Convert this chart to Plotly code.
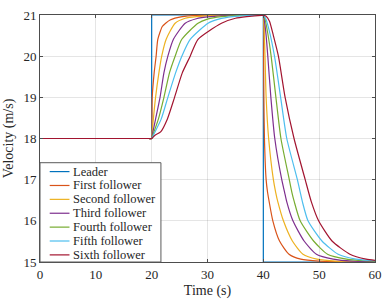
import plotly.graph_objects as go

# ---- data ----
names = ["Leader", "First follower", "Second follower", "Third follower",
         "Fourth follower", "Fifth follower", "Sixth follower"]
colors = ["#0072BD", "#D95319", "#EDB120", "#7E2F8E", "#77AC30", "#4DBEEE", "#A2142F"]

leader_t = [0, 20, 20, 40, 40, 60]
leader_v = [18, 18, 21, 21, 15, 15]

f1_t = [0, 19.5, 20, 20.05, 20.1, 20.45, 20.8, 21.1, 21.9, 22.5, 23.3, 25.5, 28, 32, 39.7, 40,
        40.05, 40.1, 40.2, 40.5, 40.75, 41.05, 41.7, 42.9, 44.6, 46.7, 50, 55, 60]
f1_v = [18, 18, 18, 18.47, 19, 19.6, 20, 20.41, 20.72, 20.8, 20.88, 20.96, 20.99, 21, 21, 21,
        20.0, 19.0, 18.0, 17.0, 16.7, 16.46, 16.0, 15.51, 15.19, 15.07, 15.02, 15.005, 15.0]

f2_t = [0, 19.5, 20, 20.05, 20.3, 20.7, 21.3, 21.8, 22.6, 24.2, 26, 28, 32, 39.7, 40,
        40.1, 40.3, 40.5, 40.95, 41.8, 42.2, 42.6, 43.6, 45.2, 47.1, 49.6, 53, 60]
f2_v = [18, 18, 18, 18.08, 18.47, 19, 19.6, 20, 20.41, 20.8, 20.92, 20.96, 20.99, 21, 21,
        20.8, 20.0, 19.0, 18.0, 17.0, 16.7, 16.46, 16.0, 15.51, 15.19, 15.07, 15.02, 15.0]

f3_t = [0, 19.5, 20, 20.1, 20.7, 21.5, 22.2, 22.9, 23.9, 26.0, 28, 30.5, 34, 39.7, 40,
        40.2, 40.5, 40.8, 41.35, 42.05, 43.3, 43.8, 44.2, 45.3, 47.3, 49.5, 52.5, 56, 60]
f3_v = [18, 18, 18, 18.08, 18.47, 19, 19.6, 20, 20.41, 20.8, 20.91, 20.96, 20.99, 21, 21,
        20.85, 20.5, 20.0, 19.0, 18.0, 17.0, 16.7, 16.46, 16.0, 15.51, 15.19, 15.07, 15.02, 15.01]

f4_t = [0, 19.5, 20, 20.2, 21.2, 22.2, 23.2, 24.2, 25.4, 28.3, 30, 32.5, 36, 39.7, 40,
        40.3, 40.8, 41.4, 42.25, 43.15, 44.65, 45.1, 45.55, 46.6, 49.0, 51.5, 54.9, 58, 60]
f4_v = [18, 18, 18, 18.08, 18.47, 19, 19.6, 20, 20.41, 20.8, 20.9, 20.96, 20.99, 21, 21,
        20.9, 20.55, 20.0, 19.0, 18.0, 17.0, 16.7, 16.46, 16.0, 15.51, 15.19, 15.07, 15.03, 15.02]

f5_t = [0, 19.5, 20, 20.3, 21.7, 22.9, 24.3, 25.4, 26.9, 30.1, 32, 34.5, 38, 39.7, 40,
        40.4, 41.0, 42.0, 43.1, 44.2, 46.1, 46.6, 47.0, 48.0, 50.5, 53.4, 56.6, 60]
f5_v = [18, 18, 18, 18.08, 18.47, 19, 19.6, 20, 20.41, 20.8, 20.9, 20.96, 20.99, 21, 21,
        20.92, 20.65, 20.0, 19.0, 18.0, 17.0, 16.7, 16.46, 16.0, 15.51, 15.19, 15.07, 15.03]

f6_t = [0, 19.5, 20, 20.6, 21.6, 22.8, 24.1, 25.5, 26.9, 28.3, 32.5, 35, 37, 39.7, 40,
        40.5, 41.1, 41.8, 42.7, 43.9, 45.5, 47.5, 48.6, 49.9, 52.3, 55.5, 58.4, 60]
f6_v = [18, 18, 18, 18.08, 18.16, 18.47, 19, 19.6, 20, 20.41, 20.8, 20.92, 20.96, 20.99, 20.99,
        20.97, 20.85, 20.5, 20.0, 19.0, 18.0, 17.0, 16.46, 16.0, 15.51, 15.19, 15.07, 15.04]

x_ticks = [0, 10, 20, 30, 40, 50, 60]
y_ticks = [15, 16, 17, 18, 19, 20, 21]

series = [(leader_t, leader_v), (f1_t, f1_v), (f2_t, f2_v), (f3_t, f3_v),
          (f4_t, f4_v), (f5_t, f5_v), (f6_t, f6_v)]

FONT = "Liberation Serif, Times New Roman, serif"
AX = "#262626"

fig = go.Figure()
for i, ((t, v), name, col) in enumerate(zip(series, names, colors)):
    fig.add_trace(go.Scatter(
        x=t, y=v, mode="lines", name=name, showlegend=False, hoverinfo="skip",
        line=dict(color=col, width=1.2, shape="linear" if i == 0 else "spline", smoothing=0.6),
    ))

axis_common = dict(
    showline=True, linecolor="#4d4d4d", linewidth=1, mirror="ticks",
    ticks="inside", ticklen=3, tickcolor="#4d4d4d",
    showgrid=True, gridcolor="rgba(38,38,38,0.12)", gridwidth=1,
    zeroline=False, tickfont=dict(family=FONT, size=13, color=AX),
)

fig.update_xaxes(range=[0, 60], tickvals=x_ticks, **axis_common,
                 title=dict(text="Time (s)", font=dict(family=FONT, size=14, color=AX), standoff=4))
fig.update_yaxes(range=[15, 21], tickvals=y_ticks, **axis_common,
                 title=dict(text="Velocity (m/s)", font=dict(family=FONT, size=14, color=AX), standoff=6))

# ---- MATLAB-style compact legend (lower-left, inside axes) ----
leg_x0, leg_x1, leg_y0, leg_y1 = 0.0, 0.361, 0.0, 0.402
row_top, row_step = 0.366, 0.0562
shapes = [dict(type="rect", xref="paper", yref="paper", x0=leg_x0, x1=leg_x1,
               y0=leg_y0, y1=leg_y1, fillcolor="white",
               line=dict(color="#5a5a5a", width=1), layer="above")]
annotations = []
for k, (name, col) in enumerate(zip(names, colors)):
    yy = row_top - k * row_step
    shapes.append(dict(type="line", xref="paper", yref="paper", x0=0.029, x1=0.088,
                       y0=yy, y1=yy, line=dict(color=col, width=1.2), layer="above"))
    annotations.append(dict(xref="paper", yref="paper", x=0.094, y=yy, text=name,
                            showarrow=False, xanchor="left", yanchor="middle",
                            font=dict(family=FONT, size=12.5, color=AX)))

fig.update_layout(
    width=390, height=303,
    margin=dict(l=37, r=12, t=8, b=41),
    paper_bgcolor="white", plot_bgcolor="white",
    shapes=shapes, annotations=annotations,
    showlegend=False, hovermode=False,
)

fig.write_html("out.html", config={"displayModeBar": False, "staticPlot": True},
               post_script="document.body.style.margin='0';"
                           "document.documentElement.style.overflow='hidden';")
